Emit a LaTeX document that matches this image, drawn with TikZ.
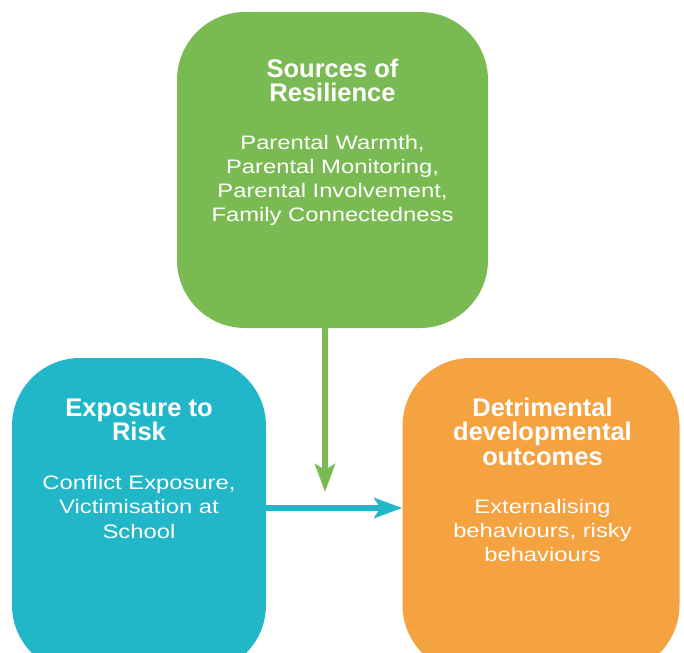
\documentclass[tikz,border=0pt]{standalone}
\usepackage{fontspec}
\setmainfont{Liberation Sans}
\newfontfamily\bodyfont[FakeStretch=1.22]{Liberation Sans}
\usetikzlibrary{arrows.meta}
\definecolor{resgreen}{HTML}{79BB52}
\definecolor{riskblue}{HTML}{22B6C9}
\definecolor{outorange}{HTML}{F5A241}
\tikzset{
  box/.style={rounded corners=68pt, inner sep=0pt, draw=none},
  ttl/.style={text=white, align=center, anchor=base, inner sep=0pt,
    font=\fontsize{25.5}{24.3}\selectfont\bfseries},
  bdy/.style={text=white, align=center, anchor=base, inner sep=0pt,
    font=\bodyfont\fontsize{19.5}{24.3}\selectfont},
  conn/.style={line width=6pt, -{Stealth[length=28pt,width=20pt,inset=6pt]}}
}
\begin{document}
\begin{tikzpicture}[x=1pt,y=-1pt]
\useasboundingbox (0,0) rectangle (684,652);
\clip (0,0) rectangle (684,652);
\node[box, fill=resgreen, minimum width=311pt, minimum height=316pt] (green) at (332.5,170) {};
\node[box, fill=riskblue, minimum width=254pt, minimum height=315pt] (blue) at (139,515.5) {};
\node[box, fill=outorange, minimum width=277pt, minimum height=315pt] (orange) at (541,515.5) {};
% anchor=base sits on the last line's baseline
\node[ttl] (gt) at (332.5,101.5) {Sources of\\Resilience};
\node[bdy] (gb) at (332.5,222) {Parental Warmth,\\Parental Monitoring,\\Parental Involvement,\\Family Connectedness};
\node[ttl] (bt) at (139,440.7) {Exposure to\\Risk};
\node[bdy] (bb) at (139,538) {Conflict Exposure,\\Victimisation at\\School};
\node[ttl] (ot) at (542.5,465) {Detrimental\\developmental\\outcomes};
\node[bdy] (ob) at (542.5,561.7) {Externalising\\behaviours, risky\\behaviours};
\coordinate (gtip) at (325,492);
\coordinate (bmid) at (0,508);
\draw[conn, draw=resgreen, fill=resgreen] (green.south -| gtip) -- (gtip);
\draw[conn, draw=riskblue, fill=riskblue] (blue.east |- bmid) -- (orange.west |- bmid);
\end{tikzpicture}
\end{document}
